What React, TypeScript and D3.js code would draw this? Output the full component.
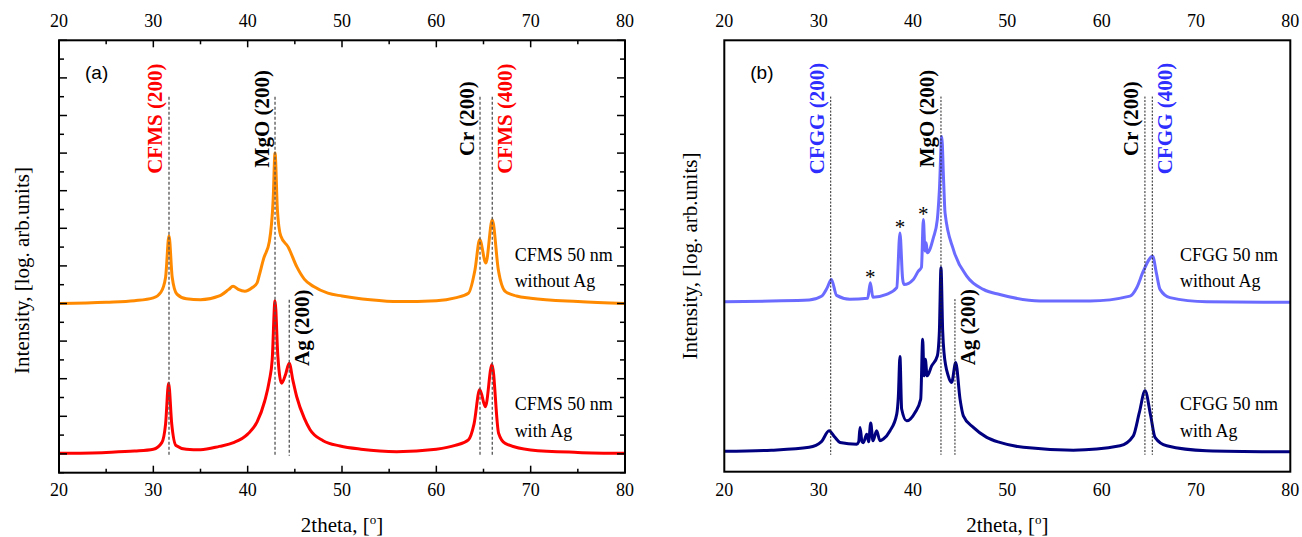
import React from 'react';
import * as d3 from 'd3';

// ---------- data ----------
const xTickLabels = [20, 30, 40, 50, 60, 70, 80];

// Panel (a): CFMS without Ag
const thetaA1 = [20, 25, 28, 30, 30.8, 31.3, 31.66, 32.0, 32.5, 33.5, 35, 37, 38.0, 38.45, 39.0, 39.7, 40.5, 41.0, 41.2, 41.7, 42.3, 42.7, 42.9, 43.15, 43.5, 44.3, 45.2, 46.0, 47.0, 48.5, 50, 53, 56, 60, 62, 63.4, 64.1, 64.6, 65.25, 65.93, 66.57, 67.3, 68.5, 70, 75, 80];
const valA1 = [8.0, 8.07, 8.15, 8.3, 8.6, 9.4, 11.6, 9.4, 8.5, 8.25, 8.2, 8.4, 8.75, 8.92, 8.75, 8.65, 8.85, 9.1, 9.45, 10.4, 11.3, 13.5, 16.0, 13.0, 11.6, 11.0, 9.96, 9.3, 8.9, 8.55, 8.4, 8.2, 8.1, 8.15, 8.3, 8.55, 9.8, 11.4, 10.15, 12.45, 9.8, 8.65, 8.4, 8.28, 8.1, 8.0];
// Panel (a): CFMS with Ag
const thetaA2 = [20, 25, 28, 30, 30.9, 31.3, 31.62, 31.95, 32.4, 33.5, 35, 37, 38.5, 40, 41.0, 41.8, 42.3, 42.6, 42.9, 43.2, 43.6, 44.0, 44.4, 44.8, 45.2, 46.0, 46.6, 48, 49.8, 52, 55.8, 60, 62, 63.4, 64.0, 64.6, 65.2, 65.9, 66.6, 67.3, 70, 75, 80];
const valA2 = [0.03, 0.08, 0.15, 0.25, 0.6, 1.6, 3.76, 1.6, 0.45, 0.25, 0.22, 0.4, 0.6, 1.05, 1.7, 2.8, 3.9, 5.0, 8.15, 5.2, 3.76, 4.2, 4.82, 3.9, 3.04, 1.9, 1.3, 0.7, 0.42, 0.25, 0.12, 0.25, 0.45, 0.75, 1.6, 3.43, 2.51, 4.76, 1.1, 0.56, 0.21, 0.08, 0.03];

// Panel (b): CFGG without Ag
const thetaB1 = [20, 25, 29, 30.3, 30.9, 31.35, 31.9, 33.3, 35.2, 35.48, 35.75, 37.2, 38.28, 38.62, 38.9, 39.05, 40.04, 40.57, 40.9, 41.1, 41.28, 41.4, 41.52, 42.16, 42.58, 42.8, 43.05, 43.25, 43.4, 44.28, 45.7, 47.46, 49.2, 53.47, 58.77, 63.0, 63.72, 64.42, 65.41, 65.8, 66.19, 67.25, 71.14, 80];
const valB1 = [8.06, 8.1, 8.15, 8.35, 8.8, 9.25, 8.4, 8.2, 8.25, 9.07, 8.3, 8.45, 8.81, 11.73, 9.3, 8.98, 9.25, 9.69, 9.9, 12.44, 10.76, 11.2, 10.67, 11.47, 12.44, 14.0, 16.87, 14.5, 12.8, 10.85, 9.43, 8.72, 8.45, 8.1, 8.1, 8.36, 8.81, 9.69, 10.49, 9.6, 8.72, 8.28, 8.06, 8.03];
// Panel (b): CFGG with Ag
const thetaB2 = [20, 25, 29, 30.3, 31.1, 31.7, 32.27, 34.04, 34.25, 34.39, 34.6, 34.74, 35.1, 35.3, 35.52, 35.76, 36.15, 36.5, 36.86, 37.57, 38.28, 38.45, 38.62, 38.8, 39.33, 40.22, 40.82, 41.03, 41.17, 41.31, 41.5, 41.98, 42.58, 42.8, 42.97, 43.15, 43.29, 43.74, 44.1, 44.53, 44.99, 45.34, 46.4, 47.82, 49.2, 51.7, 57.0, 61.95, 63.36, 64.0, 64.6, 65.2, 65.66, 66.9, 71.1, 80];
const valB2 = [0.09, 0.15, 0.3, 0.6, 1.18, 0.85, 0.56, 0.47, 0.6, 1.36, 0.6, 0.55, 1.0, 0.6, 1.59, 0.65, 1.18, 0.65, 0.74, 1.18, 2.07, 3.0, 5.14, 2.34, 1.71, 2.16, 2.87, 6.06, 4.11, 4.99, 4.11, 4.64, 5.17, 6.5, 9.87, 6.5, 5.35, 4.11, 3.76, 4.82, 2.87, 1.98, 1.36, 0.83, 0.56, 0.3, 0.15, 0.38, 0.91, 2.16, 3.31, 1.98, 0.83, 0.38, 0.12, 0.06];

// reference lines (2theta) and labels
const refA = ['CFMS (200)', 'MgO (200)', 'Cr (200)', 'CFMS (400)'];
const refAPos = [31.66, 42.9, 64.63, 65.93];
const refASide = ['left', 'left', 'left', 'right'];
const refAColor = ['#ff0000', '#000000', '#000000', '#ff0000'];
const refB = ['CFGG (200)', 'MgO (200)', 'Cr (200)', 'CFGG (400)'];
const refBPos = [31.28, 42.97, 64.59, 65.37];
const refBSide = ['left', 'left', 'left', 'right'];
const refBColor = ['#2e2eff', '#000000', '#000000', '#2e2eff'];
const agPosA = 44.41;
const agPosB = 44.45;
const starPos = [35.48, 38.62, 41.1];
const starVal = [9.07, 11.73, 12.44];

const SERIF = "'Liberation Serif', 'Times New Roman', serif";
const SANS = "'Liberation Sans', Arial, sans-serif";

type PanelProps = {
  x0: number; x1: number; y0: number; y1: number;
  ticks: boolean;
  curves: { t: number[]; v: number[]; color: string }[];
  refs: string[]; refPos: number[]; refSide: string[]; refColor: string[];
  agPos: number;
  dashColor: string; dashWidth: number; dashArray: string;
  tag: string;
  name: string;
  ylabelCenter: number;
  ylabelX: number;
  stars?: boolean;
};

function Panel(p: PanelProps) {
  const xs = d3.scaleLinear().domain([20, 80]).range([p.x0, p.x1]);
  const ys = d3.scaleLinear().domain([-1, 22]).range([p.y1, p.y0]);
  const line = d3.line<[number, number]>().x(d => xs(d[0])).y(d => ys(d[1])).curve(d3.curveMonotoneX);
  const xMinor = d3.range(20, 81, 5);
  const yAll = d3.range(-1, 23, 1);
  const labelY = ys(19) + 22;
  const labelYAg = ys(8.2) + 28;
  const midX = (p.x0 + p.x1) / 2;
  const nameX = xs(68.3);
  return (
    <g>
      {p.curves.map((c, i) => (
        <path key={i} d={line(c.t.map((t, j) => [t, c.v[j]] as [number, number])) || ''} fill="none" stroke={c.color} strokeWidth={3} strokeLinejoin="round" />
      ))}
      {p.refPos.map((r, i) => (
        <line key={'r' + i} x1={xs(r)} x2={xs(r)} y1={ys(19)} y2={ys(-0.1)} stroke={p.dashColor} strokeWidth={p.dashWidth} strokeDasharray={p.dashArray} />
      ))}
      <line x1={xs(p.agPos)} x2={xs(p.agPos)} y1={ys(8.2)} y2={ys(-0.1)} stroke={p.dashColor} strokeWidth={p.dashWidth} strokeDasharray={p.dashArray} />
      {p.refs.map((txt, i) => {
        const x = xs(p.refPos[i]) + (p.refSide[i] === 'left' ? -6.5 : 20);
        return (
          <text key={'l' + i} transform={`translate(${x},${labelY}) rotate(-90)`} textAnchor="middle" fontFamily={SERIF} fontWeight="bold" fontSize={21} fill={p.refColor[i]}>{txt}</text>
        );
      })}
      <text transform={`translate(${xs(p.agPos) + 20},${labelYAg}) rotate(-90)`} textAnchor="middle" fontFamily={SERIF} fontWeight="bold" fontSize={21} fill="#000">Ag (200)</text>
      {p.stars && starPos.map((s, i) => (
        <text key={'s' + i} x={xs(s)} y={ys(starVal[i]) + 1} textAnchor="middle" fontFamily={SERIF} fontSize={21} fill="#000">*</text>
      ))}
      {/* frame */}
      <rect x={p.x0} y={p.y0} width={p.x1 - p.x0} height={p.y1 - p.y0} fill="none" stroke="#000" strokeWidth={2} />
      {p.ticks && xMinor.map(t => {
        const len = t % 10 === 0 ? 7 : 4;
        return (
          <g key={'xt' + t}>
            <line x1={xs(t)} x2={xs(t)} y1={p.y1} y2={p.y1 - len} stroke="#000" strokeWidth={1.5} />
            <line x1={xs(t)} x2={xs(t)} y1={p.y0} y2={p.y0 + len} stroke="#000" strokeWidth={1.5} />
          </g>
        );
      })}
      {p.ticks && yAll.map(t => {
        const len = t % 2 === 0 ? 8 : 5;
        return (
          <g key={'yt' + t}>
            <line x1={p.x0} x2={p.x0 + len} y1={ys(t)} y2={ys(t)} stroke="#000" strokeWidth={1.5} />
            <line x1={p.x1} x2={p.x1 - len} y1={ys(t)} y2={ys(t)} stroke="#000" strokeWidth={1.5} />
          </g>
        );
      })}
      {xTickLabels.map(t => (
        <g key={'xl' + t}>
          <text x={xs(t)} y={27.3} textAnchor="middle" fontFamily={SERIF} fontSize={18} fill="#000">{t}</text>
          <text x={xs(t)} y={496} textAnchor="middle" fontFamily={SERIF} fontSize={18} fill="#000">{t}</text>
        </g>
      ))}
      <text x={midX} y={532} textAnchor="middle" fontFamily={SERIF} fontSize={21} fill="#000">
        2theta, [<tspan fontSize={13} dy={-8}>o</tspan><tspan dy={8}>]</tspan>
      </text>
      <text transform={`translate(${p.ylabelX},${p.ylabelCenter}) rotate(-90)`} textAnchor="middle" fontFamily={SERIF} fontSize={21} fill="#000">Intensity, [log. arb.units]</text>
      <text x={p.x0 + 26} y={79} fontFamily={SANS} fontSize={19} fill="#000">{p.tag}</text>
      <text x={nameX} y={260.7} fontFamily={SERIF} fontSize={18} fill="#000">{p.name} 50 nm</text>
      <text x={nameX} y={287.3} fontFamily={SERIF} fontSize={18} fill="#000">without Ag</text>
      <text x={nameX} y={410} fontFamily={SERIF} fontSize={18} fill="#000">{p.name} 50 nm</text>
      <text x={nameX} y={436.7} fontFamily={SERIF} fontSize={18} fill="#000">with Ag</text>
    </g>
  );
}

export default function App() {
  return (
    <div style={{ position: 'absolute', left: 0, top: 0 }}>
      <svg width={1302} height={537} viewBox="0 0 1302 537" style={{ display: 'block', background: '#fff' }}>
        <rect x={0} y={0} width={1302} height={537} fill="#fff" />
        <Panel
          x0={59} x1={625} y0={40.3} y1={472.7}
          ticks={true}
          curves={[{ t: thetaA1, v: valA1, color: '#ff8a00' }, { t: thetaA2, v: valA2, color: '#ff0000' }]}
          refs={refA} refPos={refAPos} refSide={refASide} refColor={refAColor}
          agPos={agPosA}
          dashColor="#555" dashWidth={1.3} dashArray="3,2"
          tag="(a)" name="CFMS"
          ylabelCenter={270.5} ylabelX={29}
        />
        <Panel
          x0={724.3} x1={1290.3} y0={40.3} y1={471.7}
          ticks={false}
          curves={[{ t: thetaB1, v: valB1, color: '#6b6bff' }, { t: thetaB2, v: valB2, color: '#000080' }]}
          refs={refB} refPos={refBPos} refSide={refBSide} refColor={refBColor}
          agPos={agPosB}
          dashColor="#222" dashWidth={1} dashArray="2,1.5"
          tag="(b)" name="CFGG"
          ylabelCenter={256} ylabelX={697}
          stars={true}
        />
      </svg>
    </div>
  );
}
